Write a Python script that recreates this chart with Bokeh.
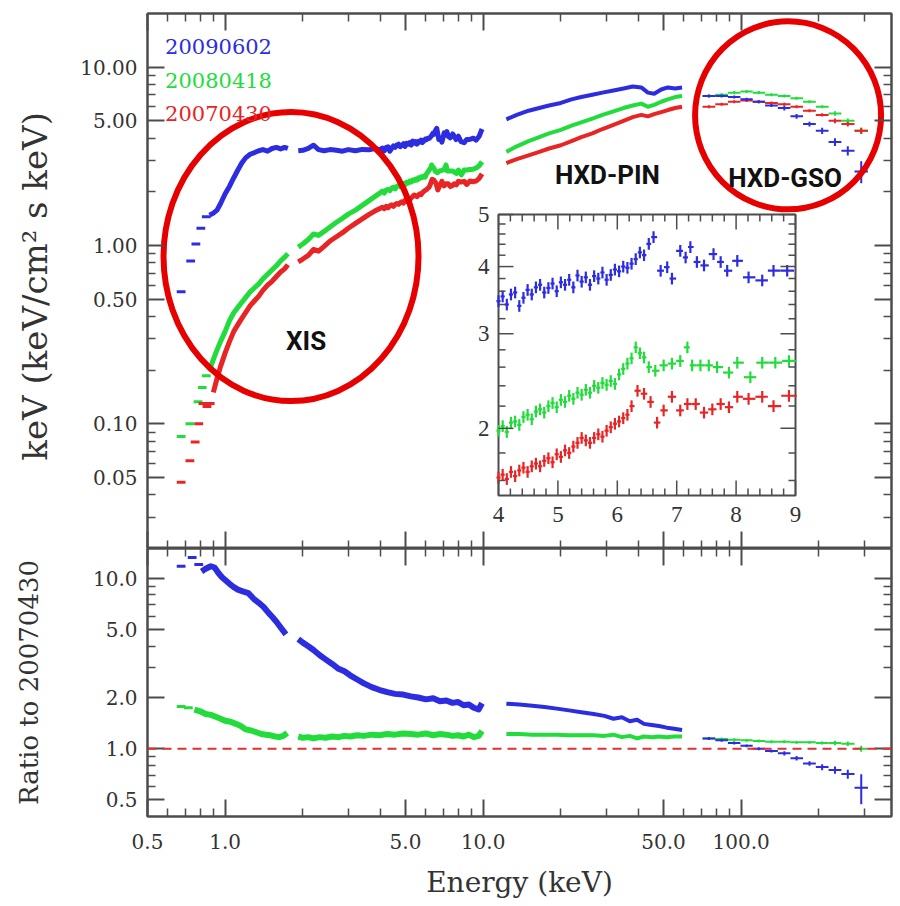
import numpy as np
from bokeh.plotting import figure
from bokeh.layouts import column
from bokeh.models import (FixedTicker, PrintfTickFormatter, CustomJSTickFormatter, LogAxis,
                          Range1d, LinearScale, LogScale, Span, Label)
from bokeh.embed import file_html
from bokeh.resources import INLINE

# ====================== DATA ======================
series_names = ["20090602", "20080418", "20070430"]
blue, green, red = "#2c2ce0", "#22dc3c", "#e82424"
series_colors = [blue, green, red]

# ---------- top panel : XIS low-energy sparse bins ----------
xlo_e_blue = [0.675, 0.735, 0.77, 0.805, 0.845]
xlo_v_blue = [0.55, 0.82, 1.02, 1.25, 1.45]
xlo_e_green = [0.675, 0.73, 0.785, 0.815, 0.845]
xlo_v_green = [0.085, 0.10, 0.133, 0.16, 0.186]
xlo_e_red = [0.675, 0.73, 0.765, 0.79, 0.82, 0.85, 0.875]
xlo_v_red = [0.047, 0.062, 0.079, 0.10, 0.13, 0.125, 0.13]

# ---------- top panel : XIS dense part below the 1.8 keV gap ----------
xa_e_blue = [0.87, 0.90, 0.93, 0.96, 1.00, 1.04, 1.08, 1.12, 1.16, 1.20,
             1.25, 1.30, 1.35, 1.40, 1.46, 1.52, 1.58, 1.64, 1.70, 1.75]
xa_v_blue = [1.48, 1.52, 1.58, 1.72, 1.95, 2.15, 2.40, 2.65, 2.90, 3.10,
             3.25, 3.32, 3.40, 3.45, 3.38, 3.50, 3.55, 3.48, 3.55, 3.50]
xa_e_green = [0.87, 0.90, 0.93, 0.96, 1.00, 1.04, 1.08, 1.12, 1.16, 1.20,
              1.25, 1.30, 1.35, 1.40, 1.46, 1.52, 1.58, 1.64, 1.70, 1.75]
xa_v_green = [0.20, 0.23, 0.26, 0.29, 0.33, 0.38, 0.42, 0.45, 0.48, 0.51,
              0.55, 0.58, 0.61, 0.65, 0.69, 0.73, 0.77, 0.82, 0.86, 0.90]
xa_e_red = [0.90, 0.93, 0.96, 1.00, 1.04, 1.08, 1.12, 1.16, 1.20, 1.25,
            1.30, 1.35, 1.40, 1.46, 1.52, 1.58, 1.64, 1.70, 1.75]
xa_v_red = [0.15, 0.18, 0.21, 0.25, 0.29, 0.33, 0.36, 0.39, 0.42, 0.46,
            0.49, 0.52, 0.56, 0.60, 0.63, 0.67, 0.71, 0.74, 0.78]

# ---------- top panel : XIS 1.9 - 4 keV ----------
xb_e = [1.92, 2.00, 2.10, 2.20, 2.30, 2.42, 2.55, 2.70, 2.85, 3.00, 3.20, 3.40, 3.60, 3.80]
xb_v_blue = [3.40, 3.42, 3.50, 3.65, 3.45, 3.40, 3.45, 3.42, 3.38, 3.45, 3.40, 3.46, 3.44, 3.50]
xb_v_green = [0.98, 1.02, 1.08, 1.16, 1.14, 1.20, 1.27, 1.35, 1.42, 1.50, 1.58, 1.68, 1.78, 1.88]
xb_v_red = [0.81, 0.84, 0.88, 0.95, 0.93, 0.99, 1.06, 1.12, 1.18, 1.25, 1.33, 1.41, 1.49, 1.56]

# ---------- 4 - 9 keV (inset, also part of the XIS spectra) ----------
in_e_blue = [4.00, 4.07, 4.14, 4.21, 4.28, 4.35, 4.42, 4.49, 4.56, 4.63, 4.70,
             4.77, 4.84, 4.91, 4.98, 5.05, 5.12, 5.19, 5.26, 5.33, 5.40, 5.47,
             5.54, 5.61, 5.68, 5.75, 5.82, 5.89, 5.96, 6.03, 6.10, 6.17, 6.24,
             6.31, 6.38, 6.45, 6.53, 6.61, 6.73, 6.84, 6.92, 7.06, 7.15, 7.23,
             7.34, 7.46, 7.62, 7.74, 7.85, 8.02, 8.21, 8.44, 8.63, 8.86]
in_v_blue = [3.45, 3.52, 3.40, 3.55, 3.58, 3.38, 3.50, 3.62, 3.55, 3.66, 3.70,
             3.58, 3.65, 3.72, 3.60, 3.74, 3.70, 3.78, 3.66, 3.85, 3.75, 3.82,
             3.70, 3.84, 3.80, 3.90, 3.78, 3.86, 3.95, 3.92, 4.00, 3.98, 4.05,
             4.13, 4.25, 4.20, 4.41, 4.54, 3.93, 3.99, 3.80, 4.28, 4.16, 4.35,
             4.08, 4.02, 4.22, 4.08, 3.93, 4.10, 3.82, 3.77, 3.93, 3.93]
in_e_green = [4.00, 4.07, 4.14, 4.21, 4.28, 4.35, 4.42, 4.49, 4.56, 4.63, 4.70,
              4.77, 4.84, 4.91, 4.98, 5.05, 5.12, 5.19, 5.26, 5.33, 5.40, 5.47,
              5.54, 5.61, 5.68, 5.75, 5.82, 5.89, 5.96, 6.03, 6.10, 6.17, 6.24,
              6.31, 6.38, 6.45, 6.53, 6.64, 6.78, 6.92, 7.06, 7.18, 7.26, 7.40,
              7.54, 7.68, 7.88, 8.02, 8.24, 8.44, 8.66, 8.89]
in_v_green = [1.98, 2.02, 1.97, 2.05, 2.06, 2.03, 2.10, 2.12, 2.08, 2.15, 2.17,
              2.14, 2.20, 2.23, 2.19, 2.26, 2.24, 2.30, 2.27, 2.33, 2.31, 2.36,
              2.33, 2.40, 2.38, 2.43, 2.41, 2.45, 2.42, 2.52, 2.58, 2.64, 2.70,
              2.83, 2.76, 2.71, 2.60, 2.56, 2.62, 2.64, 2.67, 2.83, 2.62, 2.62,
              2.62, 2.60, 2.54, 2.65, 2.49, 2.65, 2.65, 2.67]
in_e_red = [4.00, 4.07, 4.14, 4.21, 4.28, 4.35, 4.42, 4.49, 4.56, 4.63, 4.70,
            4.77, 4.84, 4.91, 4.98, 5.05, 5.12, 5.19, 5.26, 5.33, 5.40, 5.47,
            5.54, 5.61, 5.68, 5.75, 5.82, 5.89, 5.96, 6.03, 6.10, 6.17, 6.24,
            6.34, 6.45, 6.56, 6.67, 6.78, 6.92, 7.06, 7.18, 7.32, 7.46, 7.60,
            7.74, 7.88, 8.02, 8.21, 8.44, 8.63, 8.89]
in_v_red = [1.62, 1.64, 1.61, 1.66, 1.63, 1.67, 1.69, 1.66, 1.70, 1.72, 1.70,
            1.74, 1.76, 1.73, 1.79, 1.77, 1.82, 1.80, 1.85, 1.88, 1.92, 1.90,
            1.88, 1.92, 1.95, 1.93, 1.98, 2.01, 2.04, 2.06, 2.09, 2.12, 2.20,
            2.35, 2.32, 2.24, 2.05, 2.16, 2.29, 2.16, 2.22, 2.22, 2.14, 2.17,
            2.22, 2.19, 2.29, 2.27, 2.29, 2.20, 2.30]

# ---------- top panel : XIS 9 - 10 keV ----------
xc_e = [9.15, 9.40, 9.65, 9.90]
xc_v_blue = [4.00, 3.90, 4.10, 4.50]
xc_v_green = [2.68, 2.72, 2.80, 2.95]
xc_v_red = [2.28, 2.30, 2.38, 2.52]

# ---------- top panel : HXD-PIN ----------
pin_e = [12.3, 13.5, 15.0, 16.5, 18.0, 20.0, 22.0, 24.0, 26.5, 29.0,
         32.0, 35.0, 38.0, 41.0, 43.5, 46.0, 49.0, 52.0, 55.5, 59.0]
pin_v_blue = [5.1, 5.4, 5.7, 5.9, 6.1, 6.3, 6.6, 6.8, 7.0, 7.2,
              7.4, 7.6, 7.8, 7.7, 7.2, 7.1, 7.5, 7.7, 7.6, 7.7]
pin_v_green = [3.35, 3.6, 3.85, 4.05, 4.25, 4.45, 4.7, 4.9, 5.15, 5.4,
               5.65, 5.9, 6.1, 6.25, 6.0, 6.15, 6.4, 6.6, 6.8, 6.9]
pin_v_red = [2.9, 3.05, 3.2, 3.35, 3.5, 3.65, 3.85, 4.05, 4.25, 4.5,
             4.75, 5.0, 5.25, 5.4, 5.3, 5.45, 5.6, 5.75, 5.9, 6.0]

# ---------- top panel : HXD-GSO ----------
gso_e = [75, 84, 94, 105, 117, 131, 147, 164, 184, 206, 231, 259, 292]
gso_v_blue = [6.9, 6.9, 6.8, 6.6, 6.4, 6.1, 5.9, 5.3, 4.8, 4.4, 3.8, 3.4, 2.6]
gso_v_green = [6.9, 7.0, 7.2, 7.3, 7.2, 7.0, 6.9, 6.7, 6.4, 6.0, 5.5, 5.0, 4.4]
gso_v_red = [6.0, 6.2, 6.4, 6.5, 6.4, 6.3, 6.2, 6.0, 5.7, 5.4, 5.0, 4.8, 4.4]
gso_err_blue = [0.02, 0.02, 0.02, 0.02, 0.02, 0.02, 0.03, 0.03, 0.03, 0.04, 0.05, 0.06, 0.14]
gso_err_other = [0.02, 0.02, 0.02, 0.02, 0.02, 0.02, 0.02, 0.02, 0.02, 0.02, 0.03, 0.03, 0.04]

# ---------- ratio panel ----------
rlo_e_blue = [0.675, 0.745, 0.79]
rlo_v_blue = [11.8, 13.3, 12.1]
rlo_e_green = [0.675, 0.72]
rlo_v_green = [1.77, 1.74]
ra_e_blue = [0.81, 0.84, 0.88, 0.91, 0.94, 0.97, 1.00, 1.04, 1.08, 1.12,
             1.17, 1.23, 1.29, 1.35, 1.41, 1.47, 1.53, 1.59, 1.65, 1.72]
ra_v_blue = [11.0, 11.4, 11.8, 11.6, 10.8, 10.2, 9.8, 9.3, 8.9, 8.6,
             8.4, 8.2, 7.6, 7.2, 6.8, 6.3, 5.9, 5.5, 5.1, 4.7]
ra_e_green = [0.76, 0.80, 0.84, 0.88, 0.92, 0.96, 1.00, 1.05, 1.10, 1.15,
              1.20, 1.26, 1.32, 1.38, 1.44, 1.50, 1.56, 1.62, 1.68, 1.74]
ra_v_green = [1.70, 1.66, 1.60, 1.58, 1.54, 1.50, 1.46, 1.44, 1.40, 1.36,
              1.30, 1.28, 1.25, 1.22, 1.21, 1.20, 1.18, 1.17, 1.19, 1.24]
rb_e = [1.92, 2.00, 2.10, 2.20, 2.32, 2.45, 2.60, 2.75, 2.90, 3.05,
        3.25, 3.45, 3.70, 3.95, 4.25, 4.55, 4.90, 5.25, 5.60, 6.00,
        6.40, 6.80, 7.20, 7.60, 8.00, 8.40, 8.80, 9.20, 9.60, 9.90]
rb_v_blue = [4.4, 4.2, 4.0, 3.8, 3.55, 3.35, 3.15, 2.95, 2.85, 2.7,
             2.55, 2.42, 2.3, 2.22, 2.15, 2.10, 2.08, 2.03, 2.0, 1.95,
             1.98, 1.9, 1.92, 1.86, 1.88, 1.80, 1.82, 1.74, 1.70, 1.85]
rb_v_green = [1.18, 1.16, 1.17, 1.15, 1.17, 1.16, 1.18, 1.17, 1.19, 1.18,
              1.20, 1.19, 1.21, 1.20, 1.22, 1.21, 1.23, 1.22, 1.21, 1.23,
              1.20, 1.22, 1.21, 1.19, 1.20, 1.18, 1.21, 1.17, 1.19, 1.27]
rpin_e = [12.3, 13.8, 15.5, 17.3, 19.3, 21.5, 24.0, 26.8, 29.5, 32.0,
          34.5, 37.0, 39.5, 42.0, 45.0, 48.0, 51.5, 55.0, 59.0]
rpin_v_blue = [1.84, 1.82, 1.79, 1.76, 1.72, 1.68, 1.64, 1.60, 1.56, 1.50,
               1.53, 1.45, 1.48, 1.40, 1.38, 1.36, 1.33, 1.31, 1.29]
rpin_v_green = [1.22, 1.22, 1.21, 1.21, 1.21, 1.20, 1.20, 1.20, 1.19, 1.21,
                1.17, 1.19, 1.15, 1.18, 1.17, 1.18, 1.17, 1.18, 1.18]
rgso_v_blue = [1.15, 1.12, 1.08, 1.04, 1.00, 0.97, 0.94, 0.88, 0.82, 0.78, 0.75, 0.71, 0.59]
rgso_v_green = [1.15, 1.14, 1.13, 1.12, 1.11, 1.10, 1.10, 1.09, 1.09, 1.08, 1.08, 1.07, 1.00]
rgso_err_blue = [0.02, 0.02, 0.02, 0.02, 0.02, 0.02, 0.03, 0.03, 0.03, 0.04, 0.05, 0.06, 0.2]

# tick values / labels
x_major = [0.5, 1, 5, 10, 50, 100]
x_minor = [0.6, 0.7, 0.8, 0.9, 2, 3, 4, 6, 7, 8, 9, 20, 30, 40, 60, 70, 80, 90, 200, 300]
y_top_major = [0.05, 0.1, 0.5, 1, 5, 10]
y_top_minor = [0.03, 0.04, 0.06, 0.07, 0.08, 0.09, 0.2, 0.3, 0.4, 0.6, 0.7, 0.8, 0.9,
               2, 3, 4, 6, 7, 8, 9]
y_bot_major = [0.5, 1, 2, 5, 10]
y_bot_minor = [0.6, 0.7, 0.8, 0.9, 3, 4, 6, 7, 8, 9]
inset_x_major = [4, 5, 6, 7, 8, 9]
inset_x_minor = [4.2, 4.4, 4.6, 4.8, 5.2, 5.4, 5.6, 5.8, 6.2, 6.4, 6.6, 6.8,
                 7.2, 7.4, 7.6, 7.8, 8.2, 8.4, 8.6, 8.8]
inset_y_major = [2, 3, 4, 5]
inset_y_minor = [1.6, 1.8, 2.2, 2.4, 2.6, 2.8, 3.2, 3.4, 3.6, 3.8, 4.2, 4.4, 4.6, 4.8]
INSET_X = (4, 9)
INSET_Y = (1.5, 5)

# ====================== LAYOUT / STYLE ======================
SERIF = "DejaVu Serif"
AX = "#4d4d4d"
TXT = "#333333"
FW, FH_TOP, FH_BOT = 744, 535, 268
LEFT = 147
PX_PER_DEC = 258
X_START = 0.5
X_END = X_START * 10 ** (FW / PX_PER_DEC)
Y_TOP = (0.02, 20)
Y_BOT = (0.4, 15)

# inset placement (pixels inside the top frame)
IL, IW, IB, IH = 351, 297, 53, 281

BLANK = CustomJSTickFormatter(code="return ''")


def style_axis(ax, labels=True, fmt=None, maj=17, mnr=8):
    ax.axis_line_color = AX
    ax.axis_line_width = 2
    ax.major_tick_line_color = AX
    ax.major_tick_line_width = 2
    ax.minor_tick_line_color = AX
    ax.minor_tick_line_width = 1.5
    ax.major_tick_in = maj
    ax.major_tick_out = 0
    ax.minor_tick_in = mnr
    ax.minor_tick_out = 0
    ax.major_label_text_font = SERIF
    ax.major_label_text_font_size = "20px"
    ax.major_label_text_color = TXT
    ax.major_label_standoff = 10
    if fmt:
        ax.formatter = PrintfTickFormatter(format=fmt)
    if not labels:
        ax.formatter = BLANK
        ax.major_label_standoff = 0


def base_fig(fh, yr, border_top, border_bottom):
    p = figure(frame_width=FW, frame_height=fh, x_axis_type="log", y_axis_type="log",
               x_range=Range1d(X_START, X_END), y_range=Range1d(*yr),
               output_backend="svg", toolbar_location=None,
               min_border_left=LEFT, min_border_right=4,
               min_border_top=border_top, min_border_bottom=border_bottom,
               background_fill_color="white", border_fill_color="white")
    p.grid.visible = False
    p.outline_line_color = AX
    p.outline_line_width = 2
    return p


def sparse(p, e, v, color, f=1.04, **kw):
    e = np.asarray(e, float)
    v = np.asarray(v, float)
    p.segment(x0=e / f, x1=e * f, y0=v, y1=v, line_color=color, line_width=3, **kw)


def dense(p, e, v, color, lw=5, **kw):
    p.line(e, v, line_color=color, line_width=lw, line_join="round", **kw)


def crosses(p, e, v, rel, color, log=True, lw=2, **kw):
    e = np.asarray(e, float)
    v = np.asarray(v, float)
    rel = np.asarray(rel, float) * np.ones_like(v)
    if log:
        mid = np.sqrt(e[1:] * e[:-1])
        lo = np.concatenate([[e[0] ** 2 / mid[0]], mid])
        hi = np.concatenate([mid, [e[-1] ** 2 / mid[-1]]])
    else:
        mid = 0.5 * (e[1:] + e[:-1])
        lo = np.concatenate([[2 * e[0] - mid[0]], mid])
        hi = np.concatenate([mid, [2 * e[-1] - mid[-1]]])
    p.segment(x0=lo, x1=hi, y0=v, y1=v, line_color=color, line_width=lw, **kw)
    p.segment(x0=e, x1=e, y0=v * (1 - rel), y1=v * (1 + rel), line_color=color,
              line_width=lw, **kw)


xt = FixedTicker(ticks=x_major, minor_ticks=x_minor)

# ====================== TOP PANEL ======================
top = base_fig(FH_TOP, Y_TOP, 13, 0)
yt_top = FixedTicker(ticks=y_top_major, minor_ticks=y_top_minor)
top.xaxis[0].ticker = xt
style_axis(top.xaxis[0], labels=False)
top.yaxis[0].ticker = yt_top
style_axis(top.yaxis[0], fmt="%.2f")
top.yaxis[0].axis_label = "keV  (keV/cm\u00b2 s keV)"
top.yaxis[0].axis_label_text_font = SERIF
top.yaxis[0].axis_label_text_font_size = "34px"
top.yaxis[0].axis_label_text_font_style = "normal"
top.yaxis[0].axis_label_text_color = TXT
top.yaxis[0].axis_label_standoff = 22
ax_r = LogAxis(ticker=yt_top)
style_axis(ax_r, labels=False)
top.add_layout(ax_r, "right")
ax_t = LogAxis(ticker=xt)
style_axis(ax_t, labels=False)
top.add_layout(ax_t, "above")

for e, v, c in [(xlo_e_blue, xlo_v_blue, blue), (xlo_e_green, xlo_v_green, green),
                (xlo_e_red, xlo_v_red, red)]:
    sparse(top, e, v, c)
xis_sets = [
    (xa_e_blue, xa_v_blue, xb_v_blue, in_e_blue, in_v_blue, xc_v_blue, pin_v_blue, blue),
    (xa_e_green, xa_v_green, xb_v_green, in_e_green, in_v_green, xc_v_green, pin_v_green, green),
    (xa_e_red, xa_v_red, xb_v_red, in_e_red, in_v_red, xc_v_red, pin_v_red, red),
]
for ea, va, vb, ei, vi, vc, vp, c in xis_sets:
    dense(top, ea, va, c)
    dense(top, list(xb_e) + list(ei) + list(xc_e), list(vb) + list(vi) + list(vc), c)
    dense(top, pin_e, vp, c, lw=4)
crosses(top, gso_e, gso_v_green, gso_err_other, green)
crosses(top, gso_e, gso_v_red, gso_err_other, red)
crosses(top, gso_e, gso_v_blue, gso_err_blue, blue)

# legend texts
leg_x = 0.585
for name, c, yv in zip(series_names, series_colors, [13.1, 8.45, 5.5]):
    top.add_layout(Label(x=leg_x, y=yv, text=name, text_color=c, text_font=SERIF,
                         text_font_size="21px", text_baseline="middle", text_align="left"))

# instrument labels
for txt, xv, yv in [("XIS", 2.06, 0.292), ("HXD-PIN", 30.3, 2.5), ("HXD-GSO", 148, 2.38)]:
    top.add_layout(Label(x=xv, y=yv, text=txt, text_color="#111111",
                         text_font="Roboto", text_font_style="bold",
                         text_font_size="26px", text_baseline="middle", text_align="center"))

# ---------- inset (own linear-x / log-y coordinate system inside the frame) ----------
kx = (INSET_X[1] - INSET_X[0]) / IW
ix0 = INSET_X[0] - IL * kx
ix1 = ix0 + FW * kx
ky = (np.log10(INSET_Y[1]) - np.log10(INSET_Y[0])) / IH
iy0 = 10 ** (np.log10(INSET_Y[0]) - IB * ky)
iy1 = 10 ** (np.log10(INSET_Y[0]) + (FH_TOP - IB) * ky)
top.extra_x_ranges = {"ix": Range1d(ix0, ix1)}
top.extra_x_scales = {"ix": LinearScale()}
top.extra_y_ranges = {"iy": Range1d(iy0, iy1)}
top.extra_y_scales = {"iy": LogScale()}
IN = dict(x_range_name="ix", y_range_name="iy")

top.quad(left=[INSET_X[0]], right=[INSET_X[1]], bottom=[INSET_Y[0]], top=[INSET_Y[1]],
         fill_color="white", line_color=AX, line_width=2, **IN)
for e, v, c in [(in_e_blue, in_v_blue, blue), (in_e_green, in_v_green, green),
                (in_e_red, in_v_red, red)]:
    crosses(top, e, v, 0.025, c, log=False, lw=2.2, **IN)

# inset ticks (inward)
for ticks, ln in [(inset_x_major, 15), (inset_x_minor, 7)]:
    top.ray(x=ticks, y=[INSET_Y[0]] * len(ticks), length=ln, length_units="screen",
            angle=np.pi / 2, line_color=AX, line_width=1.5, **IN)
    top.ray(x=ticks, y=[INSET_Y[1]] * len(ticks), length=ln, length_units="screen",
            angle=-np.pi / 2, line_color=AX, line_width=1.5, **IN)
for ticks, ln in [(inset_y_major, 15), (inset_y_minor, 7)]:
    top.ray(x=[INSET_X[0]] * len(ticks), y=ticks, length=ln, length_units="screen",
            angle=0, line_color=AX, line_width=1.5, **IN)
    top.ray(x=[INSET_X[1]] * len(ticks), y=ticks, length=ln, length_units="screen",
            angle=np.pi, line_color=AX, line_width=1.5, **IN)
top.text(x=inset_x_major, y=[INSET_Y[0]] * len(inset_x_major),
         text=[str(t) for t in inset_x_major], y_offset=11, text_align="center",
         text_baseline="top", text_font=SERIF, text_font_size="23px", text_color=TXT, **IN)
top.text(x=[INSET_X[0]] * len(inset_y_major), y=inset_y_major,
         text=[str(t) for t in inset_y_major], x_offset=-9, text_align="right",
         text_baseline="middle", text_font=SERIF, text_font_size="23px", text_color=TXT, **IN)

# red highlight ellipses
top.ellipse(x=[1.80], y=[0.867], width=255, height=289, width_units="screen",
            height_units="screen", fill_alpha=0, line_color="#e60000", line_width=6)
top.ellipse(x=[152], y=[5.37], width=186, height=188, width_units="screen",
            height_units="screen", fill_alpha=0, line_color="#e60000", line_width=6)

# ====================== RATIO PANEL ======================
bot = base_fig(FH_BOT, Y_BOT, 0, 10)
yt_bot = FixedTicker(ticks=y_bot_major, minor_ticks=y_bot_minor)
bot.xaxis[0].ticker = xt
style_axis(bot.xaxis[0], fmt="%.1f")
bot.xaxis[0].major_label_standoff = 17
bot.xaxis[0].axis_label = "Energy (keV)"
bot.xaxis[0].axis_label_text_font = SERIF
bot.xaxis[0].axis_label_text_font_size = "28px"
bot.xaxis[0].axis_label_text_font_style = "normal"
bot.xaxis[0].axis_label_text_color = TXT
bot.xaxis[0].axis_label_standoff = 14
bot.yaxis[0].ticker = yt_bot
style_axis(bot.yaxis[0], fmt="%.1f")
bot.yaxis[0].axis_label = "Ratio to 20070430"
bot.yaxis[0].axis_label_text_font = SERIF
bot.yaxis[0].axis_label_text_font_size = "26px"
bot.yaxis[0].axis_label_text_font_style = "normal"
bot.yaxis[0].axis_label_text_color = TXT
bot.yaxis[0].axis_label_standoff = 46
bax_r = LogAxis(ticker=yt_bot)
style_axis(bax_r, labels=False)
bot.add_layout(bax_r, "right")
bax_t = LogAxis(ticker=xt)
style_axis(bax_t, labels=False)
bot.add_layout(bax_t, "above")

bot.add_layout(Span(location=1.0, dimension="width", line_color="#e03030",
                    line_dash="9 6", line_width=1.8))
sparse(bot, rlo_e_blue, rlo_v_blue, blue)
sparse(bot, rlo_e_green, rlo_v_green, green)
dense(bot, ra_e_blue, ra_v_blue, blue, lw=6)
dense(bot, ra_e_green, ra_v_green, green, lw=6)
dense(bot, rb_e, rb_v_blue, blue, lw=6)
dense(bot, rb_e, rb_v_green, green, lw=6)
dense(bot, rpin_e, rpin_v_blue, blue, lw=4)
dense(bot, rpin_e, rpin_v_green, green, lw=4)
crosses(bot, gso_e, rgso_v_green, gso_err_other, green)
crosses(bot, gso_e, rgso_v_blue, rgso_err_blue, blue)

layout = column(top, bot, spacing=0)
open("out.html", "w").write(file_html(layout, INLINE))
